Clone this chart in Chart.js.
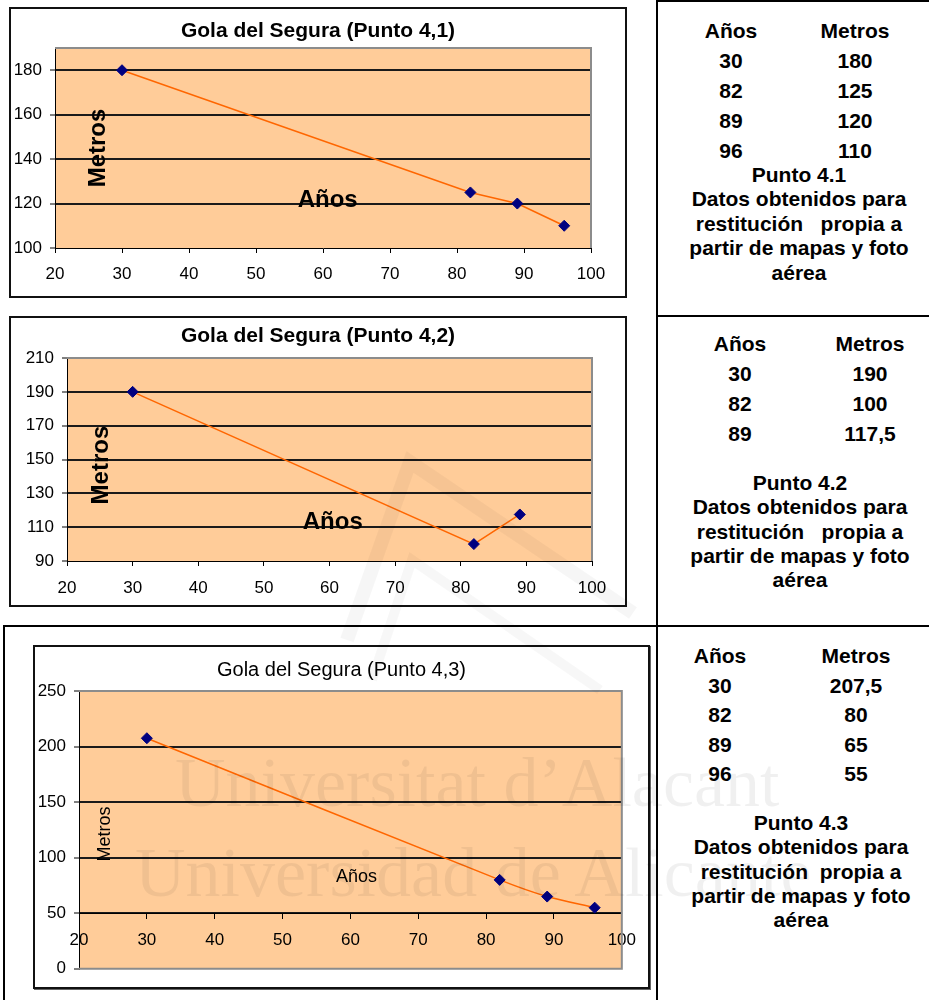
<!DOCTYPE html>
<html>
<head>
<meta charset="utf-8">
<script src="https://cdn.jsdelivr.net/npm/chart.js@4.4.0/dist/chart.umd.min.js"></script>
<style>
  body { margin: 0; background: #fff; width: 929px; height: 1000px; position: relative; overflow: hidden;
         font-family: "Liberation Sans", Arial, sans-serif; }
  .box { position: absolute; border: 2px solid #111; box-sizing: border-box; background: #fff; }
  .box canvas { position: absolute; left: 0; top: 0; }
  .rule { position: absolute; background: #000; }
  .t { position: absolute; transform: translate(-50%, -50%); font-weight: bold; font-size: 21px;
       white-space: pre; line-height: 1; color: #000; }
  .wm { position: absolute; font-family: "Liberation Serif", "DejaVu Serif", serif; font-size: 70px;
        line-height: 1; color: rgba(0,0,0,0.06); white-space: pre; pointer-events: none; }
</style>
</head>
<body>

<div class="box" style="left:9px;top:7px;width:618px;height:291px"><canvas id="c1" width="614" height="287"></canvas></div>
<div class="box" style="left:9px;top:316px;width:618px;height:291px"><canvas id="c2" width="614" height="287"></canvas></div>
<div class="box" style="left:33px;top:645px;width:617px;height:344px;box-shadow:1px 1px 0 #666"><canvas id="c3" width="613" height="340"></canvas></div>

<div class="rule" style="left:656px;top:0;width:2px;height:1000px"></div>
<div class="rule" style="left:656px;top:0;width:273px;height:2px"></div>
<div class="rule" style="left:656px;top:315px;width:273px;height:2px"></div>
<div class="rule" style="left:3px;top:625px;width:926px;height:2px"></div>
<div class="rule" style="left:3px;top:625px;width:2px;height:375px"></div>

<div id="panels"></div>

<svg width="929" height="1000" style="position:absolute;left:0;top:0;pointer-events:none">
  <polyline points="347,640 410,462 633,613" fill="none" stroke="rgba(0,0,0,0.035)" stroke-width="14"/>
  <polyline points="372,680 412,560 600,690" fill="none" stroke="rgba(0,0,0,0.03)" stroke-width="10"/>
</svg>
<div class="wm" style="left:175px;top:748px">Universitat d’Alacant</div>
<div class="wm" style="left:135px;top:838px">Universidad de Alicante</div>

<script>
// Punto 4,1
const years1 = [30, 82, 89, 96];
const metres1 = [180, 125, 120, 110];
// Punto 4,2
const years2 = [30, 82, 89];
const metres2 = [190, 100, 117.5];
// Punto 4,3
const years3 = [30, 82, 89, 96];
const metres3 = [207.5, 80, 65, 55];

const xTicks = [20, 30, 40, 50, 60, 70, 80, 90, 100];
const yTicks1 = [100, 120, 140, 160, 180];
const yTicks2 = [90, 110, 130, 150, 170, 190, 210];
const yTicks3 = [0, 50, 100, 150, 200, 250];

const titles = ['Gola del Segura (Punto 4,1)', 'Gola del Segura (Punto 4,2)', 'Gola del Segura (Punto 4,3)'];
const noteLines = [
  ['Punto 4.1', 'Datos obtenidos para', 'restitución   propia a', 'partir de mapas y foto', 'aérea'],
  ['Punto 4.2', 'Datos obtenidos para', 'restitución   propia a', 'partir de mapas y foto', 'aérea'],
  ['Punto 4.3', 'Datos obtenidos para', 'restitución  propia a', 'partir de mapas y foto', 'aérea'],
];

Chart.defaults.color = '#000';
Chart.defaults.font.family = '"Liberation Sans", Arial, sans-serif';

const plotFrame = {
  id: 'plotFrame',
  beforeDraw(chart) {
    const { ctx, chartArea: a } = chart;
    ctx.save();
    ctx.fillStyle = '#FFCC99';
    ctx.fillRect(a.left, a.top, a.right - a.left, a.bottom - a.top);
    ctx.restore();
  },
  beforeDatasetsDraw(chart, args, o) {
    const { ctx, chartArea: a } = chart;
    ctx.save();
    ctx.strokeStyle = '#8c8c8c';
    ctx.lineWidth = 2;
    ctx.beginPath();
    ctx.moveTo(a.left, a.top);
    ctx.lineTo(a.right, a.top);
    ctx.lineTo(a.right, a.bottom);
    if (o.bottom) ctx.lineTo(a.left, a.bottom);
    ctx.stroke();
    ctx.restore();
  }
};

// title (centred on the whole chart box) and the in-plot axis captions
const chartText = {
  id: 'chartText',
  afterDatasetsDraw(chart, args, o) {
    const { ctx, scales: { x, y } } = chart;
    ctx.save();
    ctx.fillStyle = '#000';
    ctx.textAlign = 'center';
    ctx.textBaseline = 'middle';
    ctx.font = o.titleFont;
    ctx.fillText(o.title, chart.width / 2, o.titleY);
    ctx.font = o.font;
    ctx.fillText('Años', x.getPixelForValue(o.anosX), y.getPixelForValue(o.anosY));
    ctx.translate(x.getPixelForValue(o.metrosX), y.getPixelForValue(o.metrosY));
    ctx.rotate(-Math.PI / 2);
    ctx.fillText('Metros', 0, 0);
    ctx.restore();
  }
};

function makeChart(id, xs, ys, c) {
  const yMin = c.yMin, yMax = c.yMax;
  return new Chart(document.getElementById(id), {
    type: 'line',
    data: {
      datasets: [{
        data: xs.map((v, i) => ({ x: v, y: ys[i] })),
        borderColor: '#FF6600',
        borderWidth: 1.5,
        tension: c.tension,
        pointStyle: 'rectRot',
        pointRadius: 5.5,
        pointBackgroundColor: '#000080',
        pointBorderColor: '#000080',
        pointBorderWidth: 1,
      }]
    },
    options: {
      responsive: false,
      animation: false,
      events: [],
      layout: { padding: { top: c.padT, left: 0, right: c.padR, bottom: 0 } },
      plugins: {
        legend: { display: false },
        tooltip: { enabled: false },
        title: { display: false },
        plotFrame: { bottom: c.frameBottom },
        chartText: c.text,
      },
      scales: {
        x: {
          type: 'linear',
          position: c.xPos,
          min: 20, max: 100,
          afterBuildTicks: s => { s.ticks = xTicks.map(v => ({ value: v })); },
          afterFit: s => { s.height = c.padB; },
          ticks: { font: { size: 17 }, padding: c.xPadding, color: '#000', maxRotation: 0 },
          grid: { display: true, drawOnChartArea: false, drawTicks: true, tickLength: 5, tickColor: '#000', tickWidth: 1 },
          border: { display: true, color: '#000', width: 1 },
        },
        y: {
          type: 'linear',
          min: yMin, max: yMax,
          afterBuildTicks: s => { s.ticks = c.yTicks.map(v => ({ value: v })); },
          afterFit: s => { s.width = c.padL; },
          ticks: { font: { size: 17 }, padding: 8, color: '#000' },
          grid: {
            color: g => (g.tick && (g.tick.value === yMin || g.tick.value === yMax)) ? 'rgba(0,0,0,0)' : '#1a1a1a',
            lineWidth: 2,
            drawTicks: true, tickLength: 5, tickColor: '#000', tickWidth: 1,
          },
          border: { display: true, color: '#000', width: 1 },
        }
      }
    },
    plugins: [plotFrame, chartText]
  });
}

const boldCaption = 'bold 24px "Liberation Sans", Arial, sans-serif';

makeChart('c1', years1, metres1, {
  yMin: 100, yMax: 190, yTicks: yTicks1, xPos: 'bottom', xPadding: 11,
  padT: 39, padL: 44, padR: 34, padB: 48, tension: 0, frameBottom: false,
  text: { title: titles[0], titleFont: 'bold 21px "Liberation Sans", Arial, sans-serif', titleY: 22,
          font: boldCaption, anosX: 60.7, anosY: 121.6, metrosX: 26.4, metrosY: 145 },
});

makeChart('c2', years2, metres2, {
  yMin: 90, yMax: 210, yTicks: yTicks2, xPos: 'bottom', xPadding: 12,
  padT: 40, padL: 56, padR: 33, padB: 44, tension: 0, frameBottom: false,
  text: { title: titles[1], titleFont: 'bold 21px "Liberation Sans", Arial, sans-serif', titleY: 18,
          font: boldCaption, anosX: 60.5, anosY: 113, metrosX: 25.2, metrosY: 146.7 },
});

makeChart('c3', years3, metres3, {
  yMin: 0, yMax: 250, yTicks: yTicks3, xPos: { y: 50 }, xPadding: 12,
  padT: 44, padL: 44, padR: 16, padB: 16, tension: 0.3, frameBottom: true,
  text: { title: titles[2], titleFont: '20px "Liberation Sans", Arial, sans-serif', titleY: 23,
          font: '18px "Liberation Sans", Arial, sans-serif', anosX: 60.9, anosY: 83, metrosX: 23.9, metrosY: 121.4 },
});

// side tables
const fmt = v => String(v).replace('.', ',');
const panels = [
  { xs: years1, ys: metres1, colA: 731, colB: 855, head: 30, rowStep: 30, noteTop: 174, noteStep: 24.4, noteX: 799 },
  { xs: years2, ys: metres2, colA: 740, colB: 870, head: 343, rowStep: 30, noteTop: 482, noteStep: 24.3, noteX: 800 },
  { xs: years3, ys: metres3, colA: 720, colB: 856, head: 655, rowStep: 29.6, noteTop: 822, noteStep: 24.3, noteX: 801 },
];
const host = document.getElementById('panels');
function put(text, x, y) {
  const d = document.createElement('div');
  d.className = 't';
  d.style.left = x + 'px';
  d.style.top = y + 'px';
  d.textContent = text;
  host.appendChild(d);
}
panels.forEach((p, k) => {
  put('Años', p.colA, p.head);
  put('Metros', p.colB, p.head);
  p.xs.forEach((v, i) => {
    put(fmt(v), p.colA, p.head + p.rowStep * (i + 1));
    put(fmt(p.ys[i]), p.colB, p.head + p.rowStep * (i + 1));
  });
  noteLines[k].forEach((line, i) => put(line, p.noteX, p.noteTop + p.noteStep * i));
});
</script>
</body>
</html>
